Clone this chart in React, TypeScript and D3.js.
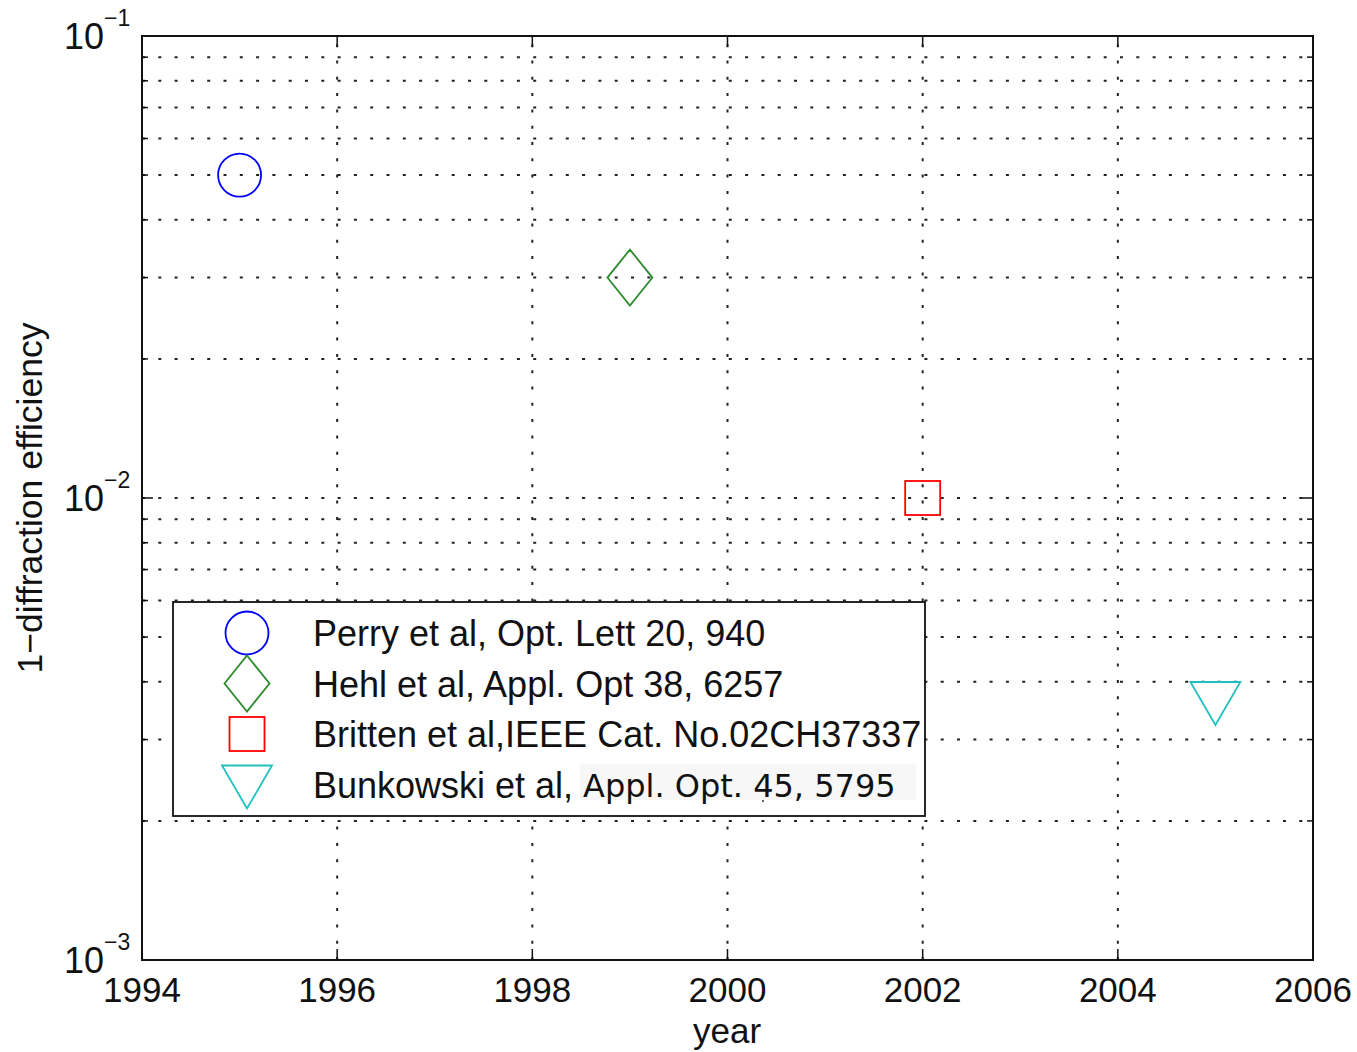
import React from "react";
import * as d3 from "d3";

const W = 1357;
const H = 1052;

const years = [1995, 1999, 2002, 2005];
const values = [0.05, 0.03, 0.01, 0.0036];
const markers = ["circle", "diamond", "square", "triangle"];
const colors = ["#0000ff", "#2e8b2e", "#ff0000", "#20c0c0"];
const legendLabels = [
  "Perry et al, Opt. Lett 20, 940",
  "Hehl et al, Appl. Opt 38, 6257",
  "Britten et al,IEEE Cat. No.02CH37337",
  "Bunkowski et al,",
];
const legendTail = "Appl. Opt. 45, 5795";
const xTicks = [1994, 1996, 1998, 2000, 2002, 2004, 2006];
const yMajor = [1e-3, 1e-2, 1e-1];
const yExponents = ["−3", "−2", "−1"];

const L = 142, R = 1313, T = 36, B = 960;

function Marker({ type, cx, cy, color }: { type: string; cx: number; cy: number; color: string }) {
  const sw = 1.8;
  if (type === "circle") return <circle cx={cx} cy={cy} r={21.5} fill="none" stroke={color} strokeWidth={sw} />;
  if (type === "diamond")
    return (
      <path
        d={`M${cx},${cy - 28}L${cx + 22.5},${cy}L${cx},${cy + 28}L${cx - 22.5},${cy}Z`}
        fill="none"
        stroke={color}
        strokeWidth={sw}
      />
    );
  if (type === "square") return <rect x={cx - 17.5} y={cy - 17} width={35} height={34} fill="none" stroke={color} strokeWidth={sw} />;
  return (
    <path
      d={`M${cx - 25},${cy - 21}L${cx + 25},${cy - 21}L${cx},${cy + 22}Z`}
      fill="none"
      stroke={color}
      strokeWidth={sw}
    />
  );
}

export default function App() {
  const x = d3.scaleLinear().domain([1994, 2006]).range([L, R]);
  const y = d3.scaleLog().domain([1e-3, 1e-1]).range([B, T]);

  const minor: number[] = [];
  [1e-3, 1e-2].forEach((d) => {
    for (let k = 2; k <= 9; k++) minor.push(d * k);
  });

  const font = "'Liberation Sans', Arial, sans-serif";
  const dot = "3,13.3";
  const gridColor = "#222";

  return (
    <svg width={W} height={H} style={{ position: "absolute", left: 0, top: 0, background: "#fff" }}>
      <rect x={0} y={0} width={W} height={H} fill="#fff" />
      {/* grid */}
      {xTicks.slice(1, -1).map((t) => (
        <line key={"gx" + t} x1={x(t)} x2={x(t)} y1={B} y2={T} stroke={gridColor} strokeWidth={2} strokeDasharray={dot} />
      ))}
      {[...minor, 1e-2].map((v, i) => (
        <line key={"gy" + i} x1={L} x2={R} y1={y(v)} y2={y(v)} stroke={gridColor} strokeWidth={2} strokeDasharray={dot} />
      ))}
      {/* ticks */}
      {xTicks.map((t) => (
        <g key={"tx" + t}>
          <line x1={x(t)} x2={x(t)} y1={B} y2={B - 11} stroke="#111" strokeWidth={1.5} />
          <line x1={x(t)} x2={x(t)} y1={T} y2={T + 11} stroke="#111" strokeWidth={1.5} />
        </g>
      ))}
      {yMajor.map((v) => (
        <g key={"ty" + v}>
          <line x1={L} x2={L + 11} y1={y(v)} y2={y(v)} stroke="#111" strokeWidth={1.5} />
          <line x1={R} x2={R - 11} y1={y(v)} y2={y(v)} stroke="#111" strokeWidth={1.5} />
        </g>
      ))}
      {minor.map((v, i) => (
        <g key={"tm" + i}>
          <line x1={L} x2={L + 6} y1={y(v)} y2={y(v)} stroke="#111" strokeWidth={1.5} />
          <line x1={R} x2={R - 6} y1={y(v)} y2={y(v)} stroke="#111" strokeWidth={1.5} />
        </g>
      ))}
      {/* axes box */}
      <rect x={L} y={T} width={R - L} height={B - T} fill="none" stroke="#111" strokeWidth={2} />
      {/* tick labels */}
      {xTicks.map((t) => (
        <text key={"lx" + t} x={x(t)} y={1002} textAnchor="middle" fontFamily={font} fontSize={35} fill="#111">
          {t}
        </text>
      ))}
      {yMajor.map((v, i) => (
        <g key={"ly" + v}>
          <text x={104} y={y(v) + 13} textAnchor="end" fontFamily={font} fontSize={36} fill="#111">
            10
          </text>
          <text x={104} y={y(v) - 10} textAnchor="start" fontFamily={font} fontSize={23} fill="#111">
            {yExponents[i]}
          </text>
        </g>
      ))}
      {/* axis labels */}
      <text x={727} y={1043} textAnchor="middle" fontFamily={font} fontSize={35} fill="#111">
        year
      </text>
      <text
        transform={`translate(42,${(T + B) / 2}) rotate(-90)`}
        textAnchor="middle"
        fontFamily={font}
        fontSize={35.5}
        fill="#111"
      >
        1−diffraction efficiency
      </text>
      {/* data */}
      {years.map((yr, i) => (
        <Marker key={"m" + i} type={markers[i]} cx={x(yr)} cy={y(values[i])} color={colors[i]} />
      ))}
      {/* legend */}
      <rect x={173} y={602} width={752} height={214} fill="#fff" stroke="#111" strokeWidth={1.8} />
      <rect x={580} y={764} width={336} height={36} fill="#f7f7f7" />
      {legendLabels.map((lab, i) => {
        const cy = 633 + i * 50.5;
        return (
          <g key={"lg" + i}>
            <Marker type={markers[i]} cx={247} cy={markers[i] === "triangle" ? cy + 2 : cy} color={colors[i]} />
            <text x={313} y={646 + i * 50.5} fontFamily={font} fontSize={36} fill="#111">
              {lab}
            </text>
          </g>
        );
      })}
      <text x={583} y={797} fontFamily="'DejaVu Sans', Verdana, sans-serif" fontSize={32} fill="#111">
        {legendTail}
      </text>
      <circle cx={763} cy={801} r={1} fill="#333" />
    </svg>
  );
}
